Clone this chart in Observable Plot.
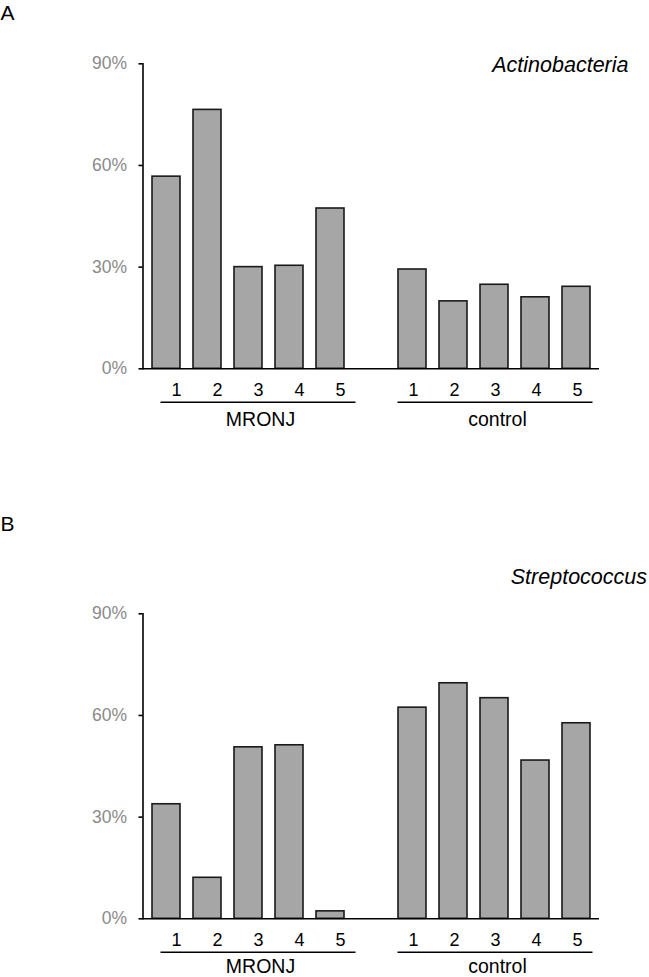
<!DOCTYPE html>
<html>
<head>
<meta charset="utf-8">
<script src="https://cdn.jsdelivr.net/npm/d3@7"></script>
<script src="https://cdn.jsdelivr.net/npm/@observablehq/plot@0.6"></script>
<style>
  html, body { margin: 0; padding: 0; background: #fff; }
  #chart svg { display: block; }
</style>
</head>
<body>
<div id="chart"></div>
<script>
// ---- data ----
const samples = ["1", "2", "3", "4", "5"];
const groups = ["MRONJ", "control"];
const yTicks = [0, 30, 60, 90];
const actinoMRONJ = [56.7, 76.4, 30.0, 30.4, 47.3];
const actinoControl = [29.3, 19.9, 24.8, 21.1, 24.2];
const streptoMRONJ = [33.8, 12.1, 50.6, 51.2, 2.2];
const streptoControl = [62.3, 69.5, 65.1, 46.7, 57.7];

const font = "'Liberation Sans', Arial, Helvetica, sans-serif";
const slotDomain = [
  ...samples.map(s => "MRONJ-" + s),
  "gap",
  ...samples.map(s => "control-" + s)
];

function panel(o) {
  const rows = [
    ...samples.map((s, i) => ({key: "MRONJ-" + s, group: "MRONJ", sample: s, value: o.mronj[i]})),
    ...samples.map((s, i) => ({key: "control-" + s, group: "control", sample: s, value: o.control[i]}))
  ];
  const grp = groups.map(g => ({
    group: g,
    first: g + "-" + samples[0],
    mid: g + "-" + samples[2],
    last: g + "-" + samples[samples.length - 1]
  }));
  const shift = {MRONJ: 10, control: 1};
  const marks = [
    Plot.barY(rows, {x: "key", y: "value", fill: "#a6a6a6", stroke: "#1a1a1a", strokeWidth: 1.6}),
    Plot.ruleY([0], {stroke: "#000", strokeWidth: 1.6}),
    Plot.frame({anchor: "left", stroke: "#000", strokeWidth: 1.6}),
    Plot.axisY({ticks: yTicks, tickSize: 4, tickPadding: 12, tickFormat: d => d + "%",
      stroke: "#000", strokeWidth: 1.6, fill: "#8a8a8a", fontSize: 17.5, fontFamily: font, label: null})
  ];
  for (const g of groups) {
    marks.push(
      Plot.text(rows.filter(r => r.group === g), {x: "key", text: "sample", frameAnchor: "bottom",
        lineAnchor: "middle", dy: 21.4, dx: shift[g], fontSize: 18, fontFamily: font, fill: "#000"}),
      Plot.ruleY(grp.filter(d => d.group === g), {y: () => 0, x1: "first", x2: "last",
        dy: 33.4, dx: shift[g], insetLeft: -1.5, insetRight: -1.5, stroke: "#000", strokeWidth: 1.4}),
      Plot.text(grp.filter(d => d.group === g), {x: "mid", text: "group", frameAnchor: "bottom",
        lineAnchor: "middle", dy: o.groupDy, dx: shift[g] + 2, fontSize: 19.5, fontFamily: font, fill: "#000"})
    );
  }
  marks.push(
    Plot.text([o.title], {frameAnchor: "top-right", textAnchor: "end", lineAnchor: "middle",
      dx: o.titleDx, dy: o.titleDy,
      fontSize: 21.5, fontStyle: "italic", fontFamily: font, fill: "#000"}),
    Plot.text([o.letter], {frameAnchor: "top-left", textAnchor: "start", lineAnchor: "middle",
      dx: -142.5, dy: o.letterDy,
      fontSize: 21, fontFamily: font, fill: "#000"})
  );
  return Plot.plot({
    width: 649,
    height: o.height,
    marginLeft: 142.5,
    marginRight: 50,
    marginTop: o.marginTop,
    marginBottom: o.marginBottom,
    style: {fontFamily: font, background: "#fff", overflow: "visible"},
    x: {type: "band", domain: slotDomain, paddingInner: 0.32, paddingOuter: 0.15, axis: null},
    y: {domain: [0, 90], axis: null},
    marks
  });
}

const chart = document.getElementById("chart");
chart.append(panel({
  letter: "A", title: "Actinobacteria", mronj: actinoMRONJ, control: actinoControl,
  height: 500, marginTop: 63.3, marginBottom: 131.7, letterDy: -50.8, titleDx: 29, titleDy: 1, groupDy: 51
}));
chart.append(panel({
  letter: "B", title: "Streptococcus", mronj: streptoMRONJ, control: streptoControl,
  height: 477, marginTop: 113.3, marginBottom: 58.7, letterDy: -89.8, titleDx: 47.5, titleDy: -36.3, groupDy: 47.5
}));
</script>
</body>
</html>
